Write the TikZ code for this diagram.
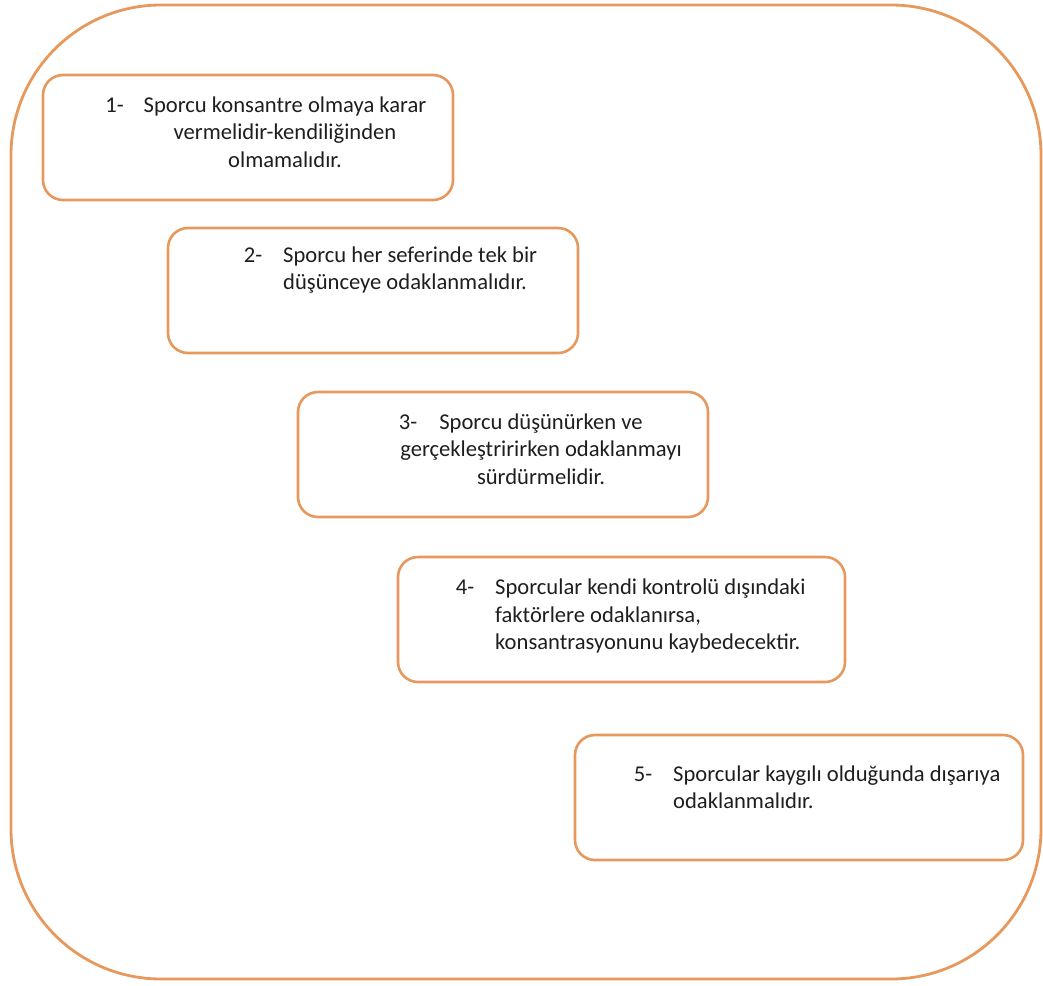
\documentclass[tikz,border=0pt]{standalone}
\usepackage{fontspec}
\setmainfont{Carlito}
\definecolor{boxline}{RGB}{231,152,92}
\definecolor{txt}{RGB}{30,30,30}
\begin{document}
\begin{tikzpicture}[x=1pt,y=-1pt,
  frame/.style={draw=boxline,line width=2.8pt,rounded corners=150pt},
  stepbox/.style={draw=boxline,line width=2.6pt,rounded corners=20pt},
  label/.style={inner sep=0pt,text=txt,font=\fontsize{22.6}{27.5}\selectfont},
]
\useasboundingbox (0,0) rectangle (1043,985);
\draw[frame] (11,5) rectangle (1041,979);
% boxes
\draw[stepbox] (43,75) rectangle (453,200) node[pos=0.5,inner sep=0pt] (b1) {};
\draw[stepbox] (168,228) rectangle (578,353) node[pos=0.5,inner sep=0pt] (b2) {};
\draw[stepbox] (298,392) rectangle (708,517) node[pos=0.5,inner sep=0pt] (b3) {};
\draw[stepbox] (398,557) rectangle (845,682) node[pos=0.5,inner sep=0pt] (b4) {};
\draw[stepbox] (575,735) rectangle (1023,860) node[pos=0.5,inner sep=0pt] (b5) {};
% texts
\node[label,align=center] (t1) at (285,132)
  {\llap{1-\hspace{20pt}}Sporcu konsantre olmaya karar\\vermelidir-kendiliğinden\\olmamalıdır.};
\node[label,align=left,anchor=west] (t2) at (283,270)
  {\llap{2-\hspace{21pt}}Sporcu her seferinde tek bir\\düşünceye odaklanmalıdır.};
\node[label,align=center] (t3) at (541,449)
  {\llap{3-\hspace{22pt}}Sporcu düşünürken ve\\gerçekleştririrken odaklanmayı\\sürdürmelidir.};
\node[label,align=left,anchor=west] (t4) at (495,616)
  {\llap{4-\hspace{21pt}}Sporcular kendi kontrolü dışındaki\\faktörlere odaklanırsa,\\konsantrasyonunu kaybedecektir.};
\node[label,align=left,anchor=west] (t5) at (673,787)
  {\llap{5-\hspace{21pt}}Sporcular kaygılı olduğunda dışarıya\\odaklanmalıdır.};
\end{tikzpicture}
\end{document}
